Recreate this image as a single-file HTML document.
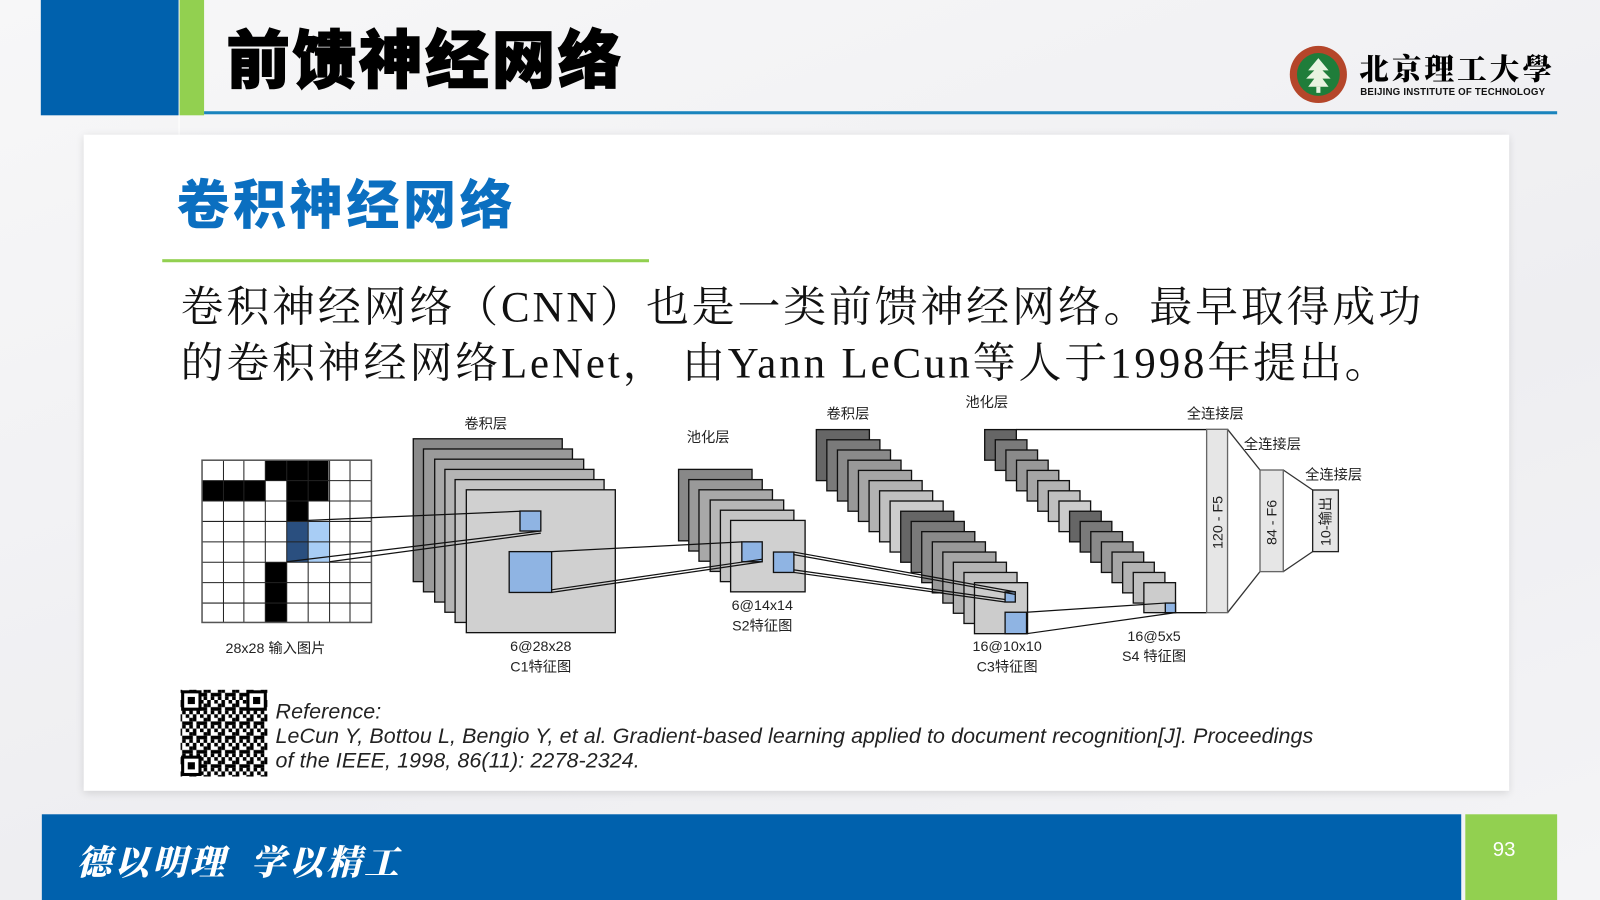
<!DOCTYPE html>
<html><head><meta charset="utf-8">
<style>
html,body{margin:0;padding:0;width:1600px;height:900px;overflow:hidden;background:#f3f3f5;}
#c{position:absolute;left:0;top:0;width:1568px;height:882px;transform:scale(1.020408);transform-origin:0 0;background:linear-gradient(160deg,#f7f7f8 0%,#eeeef1 60%,#f4f4f6 100%);font-family:"Liberation Sans","Noto Sans CJK SC",sans-serif;}
.abs{position:absolute;}
.title{left:222px;top:14px;font-size:62px;font-weight:900;color:#000;font-family:"Noto Sans CJK SC",sans-serif;letter-spacing:3px;line-height:80px;-webkit-text-stroke:1.5px #000;}
.card{left:82px;top:132px;width:1397px;height:643px;background:#fff;box-shadow:0 2px 8px rgba(0,0,0,0.12);}
.sub{left:173px;top:162px;font-size:52px;font-weight:900;color:#0b6fc0;font-family:"Noto Sans CJK SC",sans-serif;line-height:70px;letter-spacing:3.5px;}
.body{left:177px;top:275px;font-size:42px;line-height:55px;letter-spacing:2.85px;font-family:"Liberation Serif","Noto Serif CJK SC",serif;color:#111;white-space:nowrap;}
.ref{left:270px;top:686px;font-size:21px;line-height:24px;font-style:italic;color:#222;letter-spacing:0.1px;white-space:nowrap;}
</style></head><body><div id="c">
<div class="abs" style="left:40px;top:0;width:135px;height:113px;background:#0061ad"></div>
<div class="abs" style="left:176px;top:0;width:24px;height:113px;background:#92d050"></div>
<div class="abs" style="left:175px;top:113px;width:1px;height:20px;background:#fff"></div>
<div class="abs" style="left:200px;top:109px;width:1326px;height:3px;background:#1a84bd"></div>
<div class="abs title">前馈神经网络</div>
<svg class="abs" style="left:1262px;top:43px" width="62" height="60" viewBox="0 0 62 60">
<circle cx="30" cy="30" r="28" fill="#b5462a"/><circle cx="30" cy="30" r="21" fill="#1f7d3a"/>
<path d="M30 14 L40 26 L34 26 L42 34 L34 34 L40 42 L20 42 L26 34 L18 34 L26 26 L20 26 Z" fill="#e8f3e0"/>
<rect x="28" y="42" width="4" height="6" fill="#e8f3e0"/></svg>
<div class="abs" style="left:1332px;top:48px;font-size:29px;font-weight:900;font-family:'Noto Serif CJK SC',serif;letter-spacing:3px;line-height:38px;color:#000">北京理工大學</div>
<div class="abs" style="left:1333px;top:85px;font-size:9.5px;font-weight:bold;color:#111;letter-spacing:0.2px">BEIJING INSTITUTE OF TECHNOLOGY</div>

<div class="abs card"></div>
<div class="abs sub">卷积神经网络</div>
<div class="abs" style="left:159px;top:254px;width:477px;height:3px;background:#92d050"></div>
<div class="abs body">卷积神经网络（CNN）也是一类前馈神经网络。最早取得成功<br>的卷积神经网络LeNet， 由Yann LeCun等人于1998年提出。</div>

<svg class="abs" style="left:0;top:0" width="1568" height="882" viewBox="0 0 1568 882" font-family="Liberation Sans, Noto Sans CJK SC, sans-serif">
<g>
<rect x="198" y="451" width="166" height="159" fill="#fff"/>
<g fill="#000">
<rect x="260" y="451" width="62" height="20"/>
<rect x="198" y="471" width="62" height="20"/>
<rect x="281" y="471" width="41" height="20"/>
<rect x="281" y="491" width="21" height="20"/>
<rect x="260" y="551" width="21" height="59"/>
</g>
<rect x="281" y="511" width="21" height="40" fill="#2a4f7f"/>
<rect x="302" y="511" width="21" height="40" fill="#a8cdf5"/>
<g stroke="#222" stroke-width="1">
<line x1="219" y1="451" x2="219" y2="610"/><line x1="239" y1="451" x2="239" y2="610"/><line x1="260" y1="451" x2="260" y2="610"/><line x1="281" y1="451" x2="281" y2="610"/><line x1="302" y1="451" x2="302" y2="610"/><line x1="323" y1="451" x2="323" y2="610"/><line x1="343" y1="451" x2="343" y2="610"/>
<line x1="198" y1="471" x2="364" y2="471"/><line x1="198" y1="491" x2="364" y2="491"/><line x1="198" y1="511" x2="364" y2="511"/><line x1="198" y1="531" x2="364" y2="531"/><line x1="198" y1="551" x2="364" y2="551"/><line x1="198" y1="571" x2="364" y2="571"/><line x1="198" y1="591" x2="364" y2="591"/>
</g>
<rect x="198" y="451" width="166" height="159" fill="none" stroke="#555" stroke-width="1.5"/>
</g>
<!-- C1 -->
<g stroke="#111" stroke-width="1.3">
<rect x="405" y="430" width="146" height="140" fill="#8a8a8a"/>
<rect x="415" y="440" width="146" height="140" fill="#9a9a9a"/>
<rect x="426" y="450" width="146" height="140" fill="#a8a8a8"/>
<rect x="436" y="460" width="146" height="140" fill="#b4b4b4"/>
<rect x="446" y="470" width="146" height="140" fill="#c4c4c4"/>
<rect x="457" y="480" width="146" height="140" fill="#d0d0d0"/>
<rect x="509.6" y="500.8" width="20.4" height="19.6" fill="#8fb4e3"/>
<rect x="499" y="540.6" width="41.6" height="40" fill="#8fb4e3"/>
</g>
<g stroke="#111" stroke-width="1.2" fill="none">
<line x1="302" y1="510" x2="509.6" y2="501"/>
<line x1="281" y1="550.5" x2="530" y2="520.4"/><line x1="323" y1="550.5" x2="530" y2="522.5"/>
</g>
<!-- S2 -->
<g stroke="#111" stroke-width="1.3">
<rect x="665" y="460" width="72" height="70" fill="#888"/>
<rect x="675" y="470" width="72" height="70" fill="#999"/>
<rect x="685" y="480" width="72" height="70" fill="#a8a8a8"/>
<rect x="696" y="490" width="72" height="70" fill="#b6b6b6"/>
<rect x="706" y="500" width="72" height="70" fill="#c4c4c4"/>
<rect x="716" y="510" width="73" height="70" fill="#d0d0d0"/>
<rect x="727" y="531" width="20" height="19.5" fill="#8fb4e3"/>
<rect x="758" y="541" width="20" height="20" fill="#8fb4e3"/>
</g>
<g stroke="#111" stroke-width="1.2">
<line x1="540.6" y1="540.6" x2="727" y2="531"/>
<line x1="540.6" y1="580.5" x2="747" y2="550.5"/><line x1="540.6" y1="578" x2="747" y2="548"/>
</g>
<!-- C3 -->
<g stroke="#111" stroke-width="1.3">
<rect x="800" y="421" width="52" height="50" fill="#666"/>
<rect x="810.3" y="431" width="52" height="50" fill="#7a7a7a"/>
<rect x="820.7" y="441" width="52" height="50" fill="#8a8a8a"/>
<rect x="831" y="451" width="52" height="50" fill="#999"/>
<rect x="841.3" y="461" width="52" height="50" fill="#a6a6a6"/>
<rect x="851.7" y="471" width="52" height="50" fill="#b3b3b3"/>
<rect x="862" y="481" width="52" height="50" fill="#c0c0c0"/>
<rect x="872.3" y="491" width="52" height="50" fill="#cccccc"/>
<rect x="882.7" y="501" width="52" height="50" fill="#666"/>
<rect x="893" y="511" width="52" height="50" fill="#7a7a7a"/>
<rect x="903.3" y="521" width="52" height="50" fill="#8a8a8a"/>
<rect x="913.7" y="531" width="52" height="50" fill="#999"/>
<rect x="924" y="541" width="52" height="50" fill="#a6a6a6"/>
<rect x="934.3" y="551" width="52" height="50" fill="#b3b3b3"/>
<rect x="944.7" y="561" width="52" height="50" fill="#c0c0c0"/>
<rect x="955" y="571" width="52" height="50" fill="#cccccc"/>
<rect x="985" y="580" width="10" height="10" fill="#8fb4e3"/>
<rect x="985" y="600" width="21" height="21" fill="#8fb4e3"/>
</g>
<g stroke="#111" stroke-width="1.2">
<line x1="778" y1="541" x2="995" y2="580"/><line x1="778" y1="543.5" x2="995" y2="582.5"/>
<line x1="778" y1="561" x2="985" y2="590"/><line x1="778" y1="558.5" x2="985" y2="587.5"/>
</g>
<!-- S4 -->
<g stroke="#111" stroke-width="1.3">
<line x1="996" y1="421" x2="1182.5" y2="421"/>
<line x1="1152" y1="600.4" x2="1182.5" y2="600.4"/>
<rect x="965" y="421" width="31" height="30" fill="#666"/>
<rect x="975.4" y="431" width="31" height="30" fill="#7a7a7a"/>
<rect x="985.8" y="441" width="31" height="30" fill="#8a8a8a"/>
<rect x="996.2" y="451" width="31" height="30" fill="#999"/>
<rect x="1006.6" y="461" width="31" height="30" fill="#a6a6a6"/>
<rect x="1017" y="471" width="31" height="30" fill="#b3b3b3"/>
<rect x="1027.4" y="481" width="31" height="30" fill="#c0c0c0"/>
<rect x="1037.8" y="491" width="31" height="30" fill="#cccccc"/>
<rect x="1048.2" y="501" width="31" height="30" fill="#666"/>
<rect x="1058.6" y="511" width="31" height="30" fill="#7a7a7a"/>
<rect x="1069" y="521" width="31" height="30" fill="#8a8a8a"/>
<rect x="1079.4" y="531" width="31" height="30" fill="#999"/>
<rect x="1089.8" y="541" width="31" height="30" fill="#a6a6a6"/>
<rect x="1100.2" y="551" width="31" height="30" fill="#b3b3b3"/>
<rect x="1110.6" y="561" width="31" height="30" fill="#c0c0c0"/>
<rect x="1121" y="571" width="31" height="29.4" fill="#cccccc"/>
<rect x="1142" y="591" width="10" height="9.4" fill="#8fb4e3"/>
</g>
<g stroke="#111" stroke-width="1.2">
<line x1="1006" y1="600" x2="1142" y2="591"/>
<line x1="1006" y1="621" x2="1152" y2="600.4"/>
</g>
<!-- FC -->
<g stroke="#333" stroke-width="1.3">
<line x1="1203" y1="420.7" x2="1234.8" y2="460.6"/><line x1="1203" y1="600.4" x2="1234.8" y2="560.2"/>
<line x1="1257.6" y1="460.6" x2="1286.4" y2="480.2"/><line x1="1257.6" y1="560.2" x2="1286.4" y2="540.6"/>
<rect x="1182.5" y="420.7" width="20.5" height="179.7" fill="#e6e6e6" stroke="#666"/>
<rect x="1234.8" y="460.6" width="22.8" height="99.6" fill="#e6e6e6" stroke="#666"/>
<rect x="1286.4" y="480.2" width="25.2" height="60.4" fill="#e6e6e6" stroke="#222"/>
</g>
<g font-size="14" fill="#222">
<text transform="translate(1198,512) rotate(-90)" text-anchor="middle">120 - F5</text>
<text transform="translate(1251,512) rotate(-90)" text-anchor="middle">84 - F6</text>
<text transform="translate(1304,511) rotate(-90)" text-anchor="middle">10-输出</text>
</g>
<g font-size="14" fill="#222" text-anchor="middle">
<text x="476" y="420">卷积层</text>
<text x="694" y="433">池化层</text>
<text x="831" y="410">卷积层</text>
<text x="967" y="399">池化层</text>
<text x="1191" y="410">全连接层</text>
<text x="1247" y="440">全连接层</text>
<text x="1307" y="470">全连接层</text>
<text x="270" y="640">28x28 输入图片</text>
<text x="530" y="638">6@28x28</text><text x="530" y="658">C1特征图</text>
<text x="747" y="598">6@14x14</text><text x="747" y="618">S2特征图</text>
<text x="987" y="638">16@10x10</text><text x="987" y="658">C3特征图</text>
<text x="1131" y="628">16@5x5</text><text x="1131" y="648">S4 特征图</text>
</g>
<defs><pattern id="qr" width="14" height="14" patternUnits="userSpaceOnUse">
<rect width="14" height="14" fill="#fff"/>
<rect x="0" y="0" width="3.5" height="3.5" fill="#000"/><rect x="7" y="0" width="3.5" height="7" fill="#000"/>
<rect x="3.5" y="3.5" width="3.5" height="3.5" fill="#000"/><rect x="10.5" y="7" width="3.5" height="3.5" fill="#000"/>
<rect x="0" y="7" width="7" height="3.5" fill="#000"/><rect x="3.5" y="10.5" width="3.5" height="3.5" fill="#000"/>
<rect x="10.5" y="10.5" width="3.5" height="3.5" fill="#000"/></pattern></defs>
<rect x="177" y="676" width="85" height="85" fill="url(#qr)"/>
<g fill="#fff" stroke="#000" stroke-width="3">
<rect x="179" y="678" width="17" height="17"/><rect x="243" y="678" width="17" height="17"/><rect x="179" y="742" width="17" height="17"/>
</g>
<g fill="#000"><rect x="184" y="683" width="7" height="7"/><rect x="248" y="683" width="7" height="7"/><rect x="184" y="747" width="7" height="7"/></g>
</svg>
<div class="abs ref">Reference:<br>LeCun Y, Bottou L, Bengio Y, et al. Gradient-based learning applied to document recognition[J]. Proceedings<br>of the IEEE, 1998, 86(11): 2278-2324.</div>

<div class="abs" style="left:41px;top:798px;width:1391px;height:84px;background:#0061ad"></div>
<div class="abs" style="left:1436px;top:798px;width:90px;height:84px;background:#92d050"></div>
<div class="abs" style="left:1429px;top:822px;width:90px;text-align:center;color:#fff;font-size:20px">93</div>
<div class="abs" style="left:75px;top:818px;color:#fff;font-size:34px;font-weight:900;font-family:'Noto Serif CJK SC',serif;letter-spacing:3px;font-style:italic;white-space:nowrap">德以明理&nbsp;&nbsp;学以精工</div>
</div></body></html>
